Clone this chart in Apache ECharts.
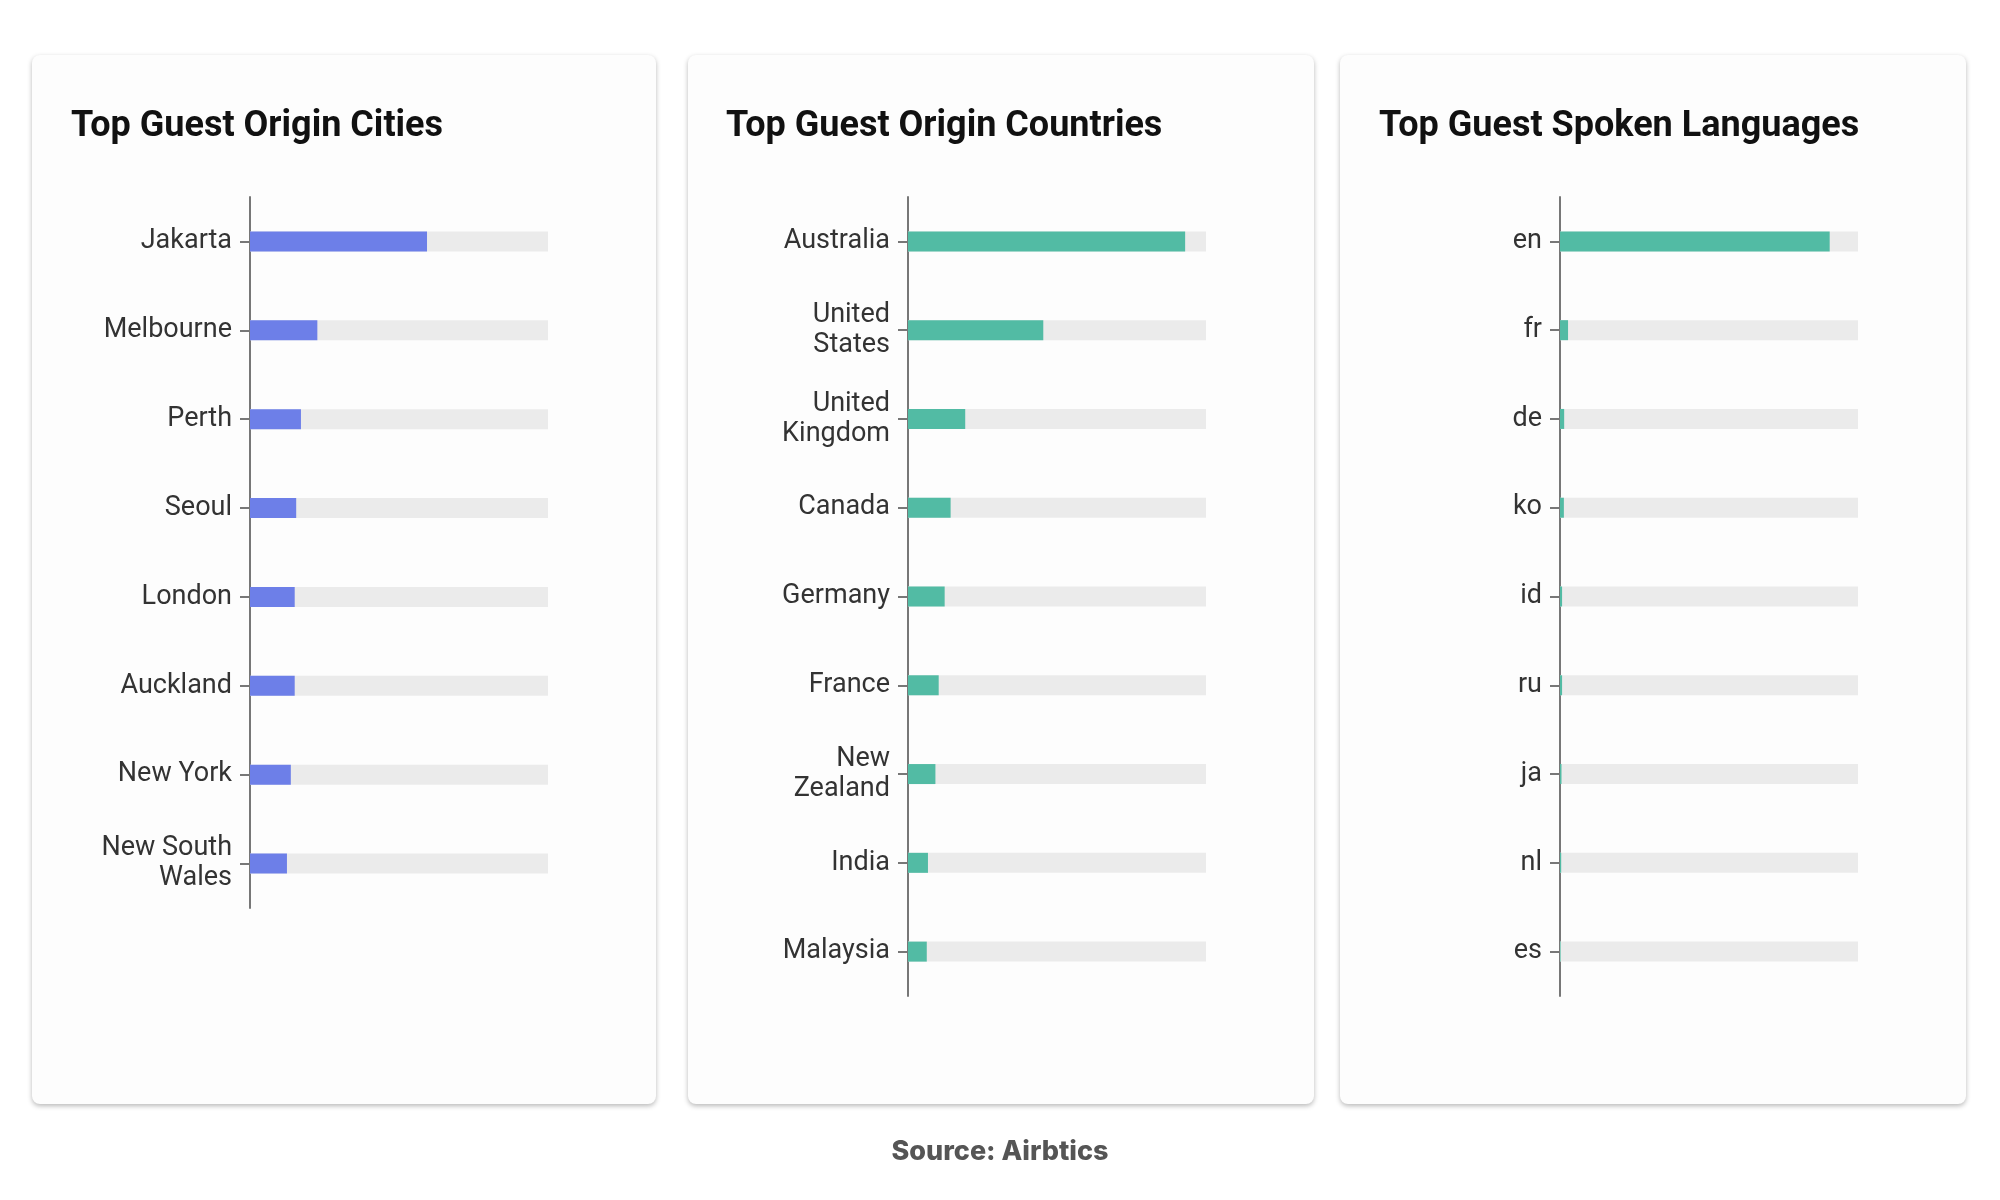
<!DOCTYPE html>
<html>
<head>
<meta charset="utf-8">
<script src="https://cdn.jsdelivr.net/npm/echarts@6/dist/echarts.min.js"></script>
<style>
  html, body { margin: 0; padding: 0; background: #ffffff; }
  #main { width: 2000px; height: 1200px; }
</style>
</head>
<body>
<div id="main"></div>
<script>
// data (share of guests, % of the bar track)
var cityNames = ["Jakarta", "Melbourne", "Perth", "Seoul", "London", "Auckland", "New York", "New South\nWales"];
var cityValues = [59.4, 22.6, 17.1, 15.5, 15.0, 15.0, 13.7, 12.4];

var countryNames = ["Australia", "United\nStates", "United\nKingdom", "Canada", "Germany", "France", "New\nZealand", "India", "Malaysia"];
var countryValues = [93.0, 45.4, 19.2, 14.3, 12.3, 10.3, 9.2, 6.7, 6.3];

var langNames = ["en", "fr", "de", "ko", "id", "ru", "ja", "nl", "es"];
var langValues = [90.5, 2.7, 1.4, 1.3, 0.7, 0.7, 0.5, 0.4, 0.2];

var titles = ["Top Guest Origin Cities", "Top Guest Origin Countries", "Top Guest Spoken Languages"];

var blue = "#6d7fe8";
var teal = "#52bba4";
var track = "#ebebeb";

var myChart = echarts.init(document.getElementById("main"));

function card(x, w) {
  return {
    type: "rect",
    z: -10,
    shape: { x: x, y: 55, width: w, height: 1049, r: 8 },
    style: {
      fill: "#fdfdfd",
      shadowBlur: 5,
      shadowOffsetY: 2,
      shadowColor: "rgba(0,0,0,0.28)"
    }
  };
}

function catAxis(idx, names) {
  return {
    type: "category",
    gridIndex: idx,
    data: names,
    inverse: true,
    axisLine: { show: true, lineStyle: { color: "#777", width: 2 } },
    axisTick: { show: true, alignWithLabel: true, length: 10, lineStyle: { color: "#777", width: 2 } },
    axisLabel: {
      margin: 18,
      color: "#333",
      fontFamily: "Roboto",
      fontSize: 27,
      lineHeight: 30
    },
    splitLine: { show: false }
  };
}

function valAxis(idx) {
  return { type: "value", gridIndex: idx, min: 0, max: 100, show: false };
}

function barSeries(idx, values, color) {
  return {
    type: "bar",
    xAxisIndex: idx,
    yAxisIndex: idx,
    data: values,
    barWidth: 20,
    showBackground: true,
    backgroundStyle: { color: track },
    itemStyle: { color: color },
    silent: true
  };
}

var option = {
  backgroundColor: "#ffffff",
  animation: false,
  title: [
    { text: titles[0], left: 66, top: 104 },
    { text: titles[1], left: 721, top: 104 },
    { text: titles[2], left: 1374, top: 104 },
    { text: "Source: Airbtics", left: "center", top: 1133 }
  ].map(function (t, i) {
    t.textStyle = i < 3
      ? { fontFamily: "Roboto", fontWeight: "bold", fontSize: 36, color: "#111" }
      : { fontFamily: "Inter", fontWeight: 800, fontSize: 27, color: "#555" };
    return t;
  }),
  grid: [
    { left: 250, top: 197, width: 298, height: 711 },
    { left: 908, top: 197, width: 298, height: 799 },
    { left: 1560, top: 197, width: 298, height: 799 }
  ],
  xAxis: [valAxis(0), valAxis(1), valAxis(2)],
  yAxis: [catAxis(0, cityNames), catAxis(1, countryNames), catAxis(2, langNames)],
  series: [
    barSeries(0, cityValues, blue),
    barSeries(1, countryValues, teal),
    barSeries(2, langValues, teal)
  ],
  graphic: [card(32, 624), card(688, 626), card(1340, 626)]
};

myChart.setOption(option);
</script>
</body>
</html>
